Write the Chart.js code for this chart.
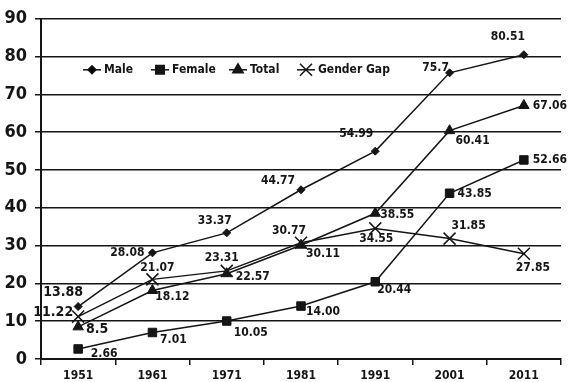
<!DOCTYPE html>
<html>
<head>
<meta charset="utf-8">
<script src="https://cdn.jsdelivr.net/npm/chart.js@4/dist/chart.umd.min.js"></script>
<style>
  html, body { margin: 0; padding: 0; background: #fff; }
  #wrap { width: 571px; height: 382px; position: relative; }
</style>
</head>
<body>
<div id="wrap"><canvas id="c" width="571" height="382"></canvas></div>
<script>
// Literacy rates by census year (per cent)
const years = ["1951", "1961", "1971", "1981", "1991", "2001", "2011"];
const maleText   = ["13.88", "28.08", "33.37", "44.77", "54.99", "75.7", "80.51"];
const femaleText = ["2.66", "7.01", "10.05", "14.00", "20.44", "43.85", "52.66"];
const totalText  = ["8.5", "18.12", "22.57", "30.11", "38.55", "60.41", "67.06"];
const gapText    = ["11.22", "21.07", "23.31", "30.77", "34.55", "31.85", "27.85"];
const yTicks = [0, 10, 20, 30, 40, 50, 60, 70, 80, 90];

const male = maleText.map(Number);
const female = femaleText.map(Number);
const total = totalText.map(Number);
const gap = gapText.map(Number);

const FONT = "'Liberation Sans Narrow', 'DejaVu Sans Condensed', 'Arial Narrow', sans-serif";
const INK = '#151515';

// Where each value label sits relative to its point: [dx, dy, align, size]
const labelPlace = [
  // Male
  [[-15, -14, 'center', 14], [-8, 0, 'right', 12], [-12, -12, 'center', 12], [-23, -9, 'center', 12],
   [-19, -17, 'center', 12], [-14, -5, 'center', 12], [-16, -18, 'center', 12]],
  // Female
  [[26, 5, 'center', 12], [21, 7, 'center', 12], [24, 12, 'center', 12], [22, 6, 'center', 12],
   [19, 8, 'center', 12], [8, 1, 'left', 12], [9, 0, 'left', 12]],
  // Total
  [[19, 2, 'center', 14], [20, 6, 'center', 12], [26, 3, 'center', 12], [22, 9, 'center', 12],
   [22, 2, 'center', 12], [23, 10, 'center', 12], [9, 0, 'left', 12]],
  // Gender gap
  [[-5, -4, 'right', 14], [5, -11, 'center', 12], [-5, -13, 'center', 12], [-12, -12, 'center', 12],
   [1, 10, 'center', 12], [19, -13, 'center', 12], [9, 14, 'center', 12]]
];
const labelText = [maleText, femaleText, totalText, gapText];

const valueLabels = {
  id: 'valueLabels',
  afterDatasetsDraw(chart) {
    const ctx = chart.ctx;
    ctx.save();
    ctx.fillStyle = INK;
    ctx.textBaseline = 'middle';
    chart.data.datasets.forEach((ds, di) => {
      const meta = chart.getDatasetMeta(di);
      meta.data.forEach((pt, i) => {
        const [dx, dy, align, size] = labelPlace[di][i];
        ctx.font = 'bold ' + size + 'px ' + FONT;
        ctx.textAlign = align;
        ctx.fillText(labelText[di][i], pt.x + dx, pt.y + dy);
      });
    });
    ctx.restore();
  }
};

// Legend drawn inside the plot, one row near the top
const inlineLegend = {
  id: 'inlineLegend',
  afterDraw(chart) {
    const ctx = chart.ctx;
    const a = chart.chartArea;
    const y = a.top + 51;
    const starts = [51, 119, 197, 265];
    ctx.save();
    ctx.font = 'bold 12px ' + FONT;
    ctx.textBaseline = 'middle';
    ctx.textAlign = 'left';
    chart.data.datasets.forEach((ds, di) => {
      const mx = a.left + starts[di];
      ctx.strokeStyle = INK;
      ctx.lineWidth = 1.5;
      ctx.beginPath();
      ctx.moveTo(mx - 9, y);
      ctx.lineTo(mx + 9, y);
      ctx.stroke();
      Chart.helpers.drawPoint(ctx, {
        pointStyle: ds.pointStyle,
        radius: ds.pointRadius,
        borderWidth: ds.pointBorderWidth || 1,
        rotation: 0
      }, mx, y);
      ctx.fillStyle = INK;
      ctx.fillText(ds.label, mx + 12, y + 0.5);
    });
    ctx.restore();
  }
};

function series(label, data, style, radius) {
  return {
    label: label,
    data: data,
    borderColor: INK,
    backgroundColor: INK,
    borderWidth: 1.5,
    pointStyle: style,
    pointRadius: radius,
    pointHoverRadius: radius,
    pointBackgroundColor: INK,
    pointBorderColor: INK,
    pointBorderWidth: style === 'crossRot' ? 1.5 : 1,
    tension: 0,
    fill: false
  };
}

new Chart(document.getElementById('c'), {
  type: 'line',
  data: {
    labels: years,
    datasets: [
      series('Male', male, 'rectRot', 4),
      series('Female', female, 'rect', 6),
      series('Total', total, 'triangle', 6),
      series('Gender Gap', gap, 'crossRot', 8.5)
    ]
  },
  plugins: [valueLabels, inlineLegend],
  options: {
    responsive: false,
    animation: false,
    devicePixelRatio: 1,
    layout: { padding: { top: 17, right: 0, left: 0, bottom: 0 } },
    plugins: { legend: { display: false }, tooltip: { enabled: false } },
    scales: {
      x: {
        offset: true,
        grid: {
          offset: true,
          drawOnChartArea: false,
          drawTicks: true,
          tickLength: 6,
          color: INK,
          lineWidth: 1.5
        },
        border: { display: true, color: INK, width: 2 },
        ticks: {
          color: INK,
          font: { family: FONT, size: 12, weight: 'bold' },
          padding: 4,
          maxRotation: 0
        },
        afterFit(scale) { scale.height = 23; }
      },
      y: {
        min: 0,
        max: 90,
        afterBuildTicks(scale) { scale.ticks = yTicks.map(v => ({ value: v })); },
        grid: {
          color: INK,
          lineWidth: 1.5,
          tickLength: 6
        },
        border: { display: true, color: INK, width: 2 },
        ticks: {
          color: INK,
          font: { family: FONT, size: 18, weight: 'bold' },
          padding: 8
        },
        afterFit(scale) { scale.width = 41; }
      }
    }
  }
});
</script>
</body>
</html>
